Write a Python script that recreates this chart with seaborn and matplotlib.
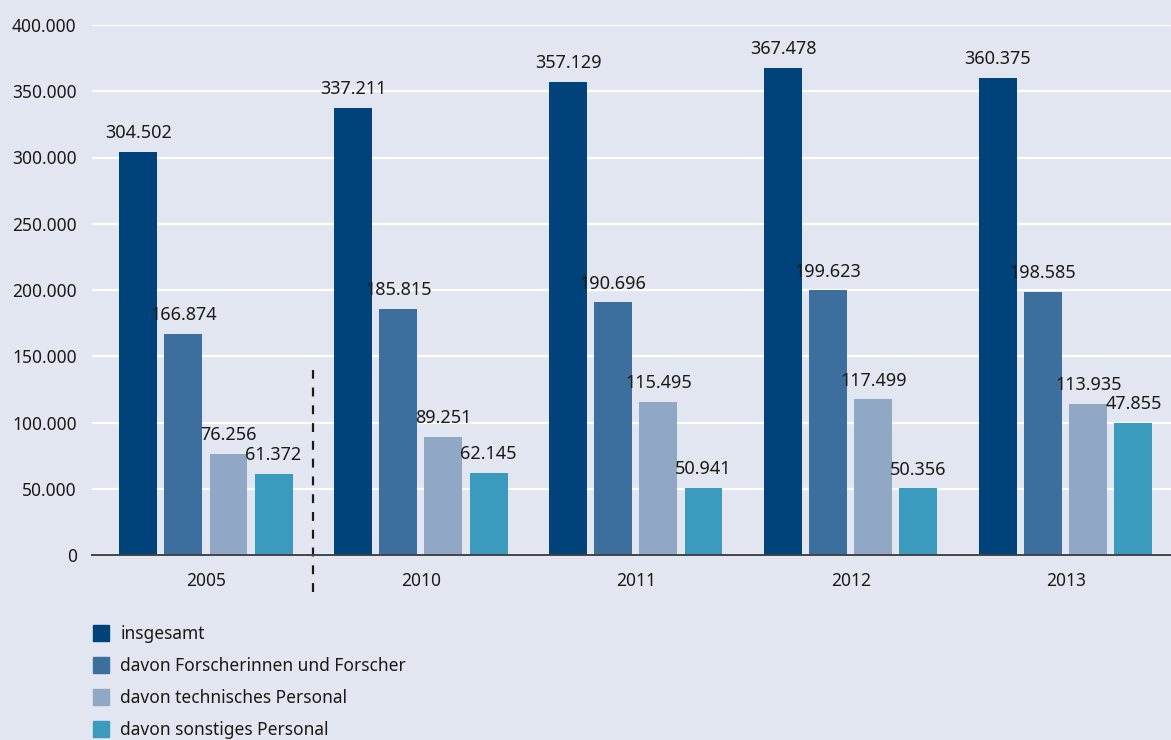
import pandas as pd
import seaborn as sns
import matplotlib.pyplot as plt
from matplotlib.lines import Line2D

# Data
years = ['2005', '2010', '2011', '2012', '2013']
series = ['insgesamt', 'davon Forscherinnen und Forscher',
          'davon technisches Personal', 'davon sonstiges Personal']
insgesamt = [304502, 337211, 357129, 367478, 360375]
forscher = [166874, 185815, 190696, 199623, 198585]
technisch = [76256, 89251, 115495, 117499, 113935]
# last bar is drawn at ~99.600 in the source although its label reads 47.855
sonstiges = [61372, 62145, 50941, 50356, 99600]
label_texts = [
    ['304.502', '337.211', '357.129', '367.478', '360.375'],
    ['166.874', '185.815', '190.696', '199.623', '198.585'],
    ['76.256', '89.251', '115.495', '117.499', '113.935'],
    ['61.372', '62.145', '50.941', '50.356', '47.855'],
]
colors = ['#00437a', '#3d6f9e', '#91a7c6', '#3a9bbf']
bg = '#e1e6f0'

df = pd.DataFrame({
    'Jahr': years * 4,
    'Reihe': [s for s in series for _ in years],
    'Wert': insgesamt + forscher + technisch + sonstiges,
})

sns.set_style('white')
plt.rcParams['font.family'] = ['Noto Sans', 'DejaVu Sans']

fig = plt.figure(figsize=(11.71, 7.40), dpi=100, facecolor=bg)
ax = fig.add_axes([92 / 1171, 1 - 555 / 740, 1 - 92 / 1171, 530 / 740])
ax.set_facecolor(bg)

sns.barplot(data=df, x='Jahr', y='Wert', hue='Reihe', palette=colors,
            width=0.84, gap=0.16, saturation=1, legend=False, linewidth=0,
            ax=ax)

for cont, labs in zip(ax.containers, label_texts):
    ax.bar_label(cont, labels=labs, padding=7, fontsize=13, color='#1a1a1a')

ax.set_ylim(0, 400000)
ax.set_xlim(-0.53, 4.49)
yt = [0, 50000, 100000, 150000, 200000, 250000, 300000, 350000, 400000]
ax.set_yticks(yt)
ax.set_yticklabels([f'{v:,}'.replace(',', '.') for v in yt])
ax.yaxis.grid(True, color='white', linewidth=1.6)
ax.set_axisbelow(True)
ax.tick_params(axis='y', length=0, pad=11, labelsize=12.5, labelcolor='#1a1a1a')
ax.tick_params(axis='x', which='major', length=0, pad=12, labelsize=12.5,
               labelcolor='#1a1a1a')
ax.set_xticks([1.5, 2.5, 3.5], minor=True)
ax.tick_params(axis='x', which='minor', direction='inout', length=8,
               width=1, color='#333333')
ax.set_xlabel('')
ax.set_ylabel('')
for s in ['top', 'right', 'left']:
    ax.spines[s].set_visible(False)
ax.spines['bottom'].set_color('#444444')
ax.spines['bottom'].set_linewidth(1.4)

# dashed separator between 2005 and 2010
ax.axvline(0.5, ymin=-0.07, ymax=0.35, color='#1a1a1a', linestyle=(0, (4, 4)),
           linewidth=1.6, clip_on=False)

handles = [Line2D([], [], marker='s', linestyle='', markersize=11.5,
                  markerfacecolor=c, markeredgecolor=c) for c in colors]
fig.legend(handles, series, loc='upper left', bbox_to_anchor=(82 / 1171, 1 - 616 / 740),
           frameon=False, fontsize=12.5, labelspacing=0.81, handletextpad=0.5,
           handlelength=1.2, borderpad=0, labelcolor='#1a1a1a')

fig.savefig('out.png', dpi=100, facecolor=bg)
